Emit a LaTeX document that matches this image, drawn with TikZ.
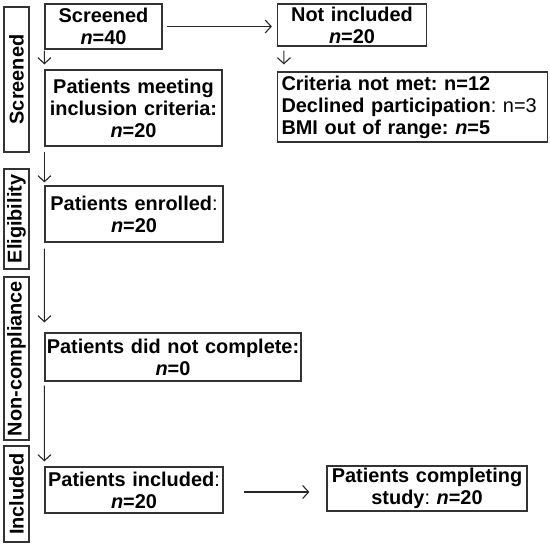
\documentclass[tikz,border=0pt]{standalone}
\usepackage{fontspec}
\setmainfont{Liberation Sans}
\usetikzlibrary{arrows.meta}
\tikzset{
  box/.style={draw=black!80, line width=1.2bp, inner sep=0pt, align=center,
    font=\frenchspacing\bfseries\fontsize{20}{22}\selectfont},
  sidebox/.style={draw=black!80, line width=1.2bp, inner sep=0pt, rotate=90,
    minimum height=25bp, font=\bfseries\fontsize{20}{22}\selectfont},
  arr/.style={draw=black!85, line width=1.1bp, -{Straight Barb[length=6bp,width=13bp,line width=1.1bp]}}
}
\newcommand{\nn}{\textit{n}}
\newcommand{\rg}[1]{{\mdseries #1}}
\begin{document}
\begin{tikzpicture}[x=1bp,y=-1bp]
\useasboundingbox (0,0) rectangle (550,544);
% side labels
\node[sidebox, minimum width=145bp] (lscr) at (16.5,79.5) {Screened};
\node[sidebox, minimum width=100bp] (lelig) at (16.5,219) {Eligibility};
\node[sidebox, minimum width=163bp] (lnon) at (16.5,358.5) {Non-compliance};
\node[sidebox, minimum width=96bp] (linc) at (16.5,494) {Included};
% main boxes
\node[box, text width=117bp, minimum height=45bp] (scr) at (103.5,26.5) {Screened\\\nn=40};
\node[box, text width=149bp, minimum height=42bp] (notinc) at (352,25) {Not included\\\nn=20};
\node[box, text width=177bp, minimum height=76bp] (meet) at (133.5,108) {Patients meeting\\inclusion criteria:\\\nn=20};
\node[box, text width=262bp, inner xsep=4bp, minimum height=70bp, align=left] (crit) at (412.5,107) {Criteria not met: n=12\\Declined participation\rg{: n=3}\\BMI out of range: \nn=5};
\node[box, text width=178bp, minimum height=56bp] (enr) at (134,214) {Patients enrolled\rg{:}\\\nn=20};
\node[box, text width=256bp, minimum height=48bp] (dnc) at (173,357) {Patients did not complete:\\\nn=0};
\node[box, text width=178bp, minimum height=46bp] (inc) at (134,490) {Patients included\rg{:}\\\nn=20};
\node[box, text width=200bp, minimum height=45bp] (comp) at (427,488.5) {Patients completing\\study\rg{:} \nn=20};
% connectors
\draw[arr] ([xshift=4bp]scr.east) -- ([xshift=-5bp]scr.east -| notinc.west);
\draw[arr] ([xshift=7bp,yshift=-4bp]notinc.south west) -- ([xshift=7bp,yshift=7bp]crit.north west);
\draw[arr] ([yshift=-1bp]scr.south west) -- ([yshift=5bp]meet.north west);
\draw[arr] ([yshift=-5bp]meet.south west) -- ([yshift=3bp]enr.north west);
\draw[arr] ([yshift=-6bp]enr.south west) -- ([yshift=10bp]dnc.north west);
\draw[arr] ([yshift=-4bp]dnc.south west) -- ([yshift=5bp]inc.north west);
\draw[arr] ([xshift=20bp,yshift=-2bp]inc.east) -- ([xshift=-17bp,yshift=-2bp]inc.east -| comp.west);
\end{tikzpicture}
\end{document}
